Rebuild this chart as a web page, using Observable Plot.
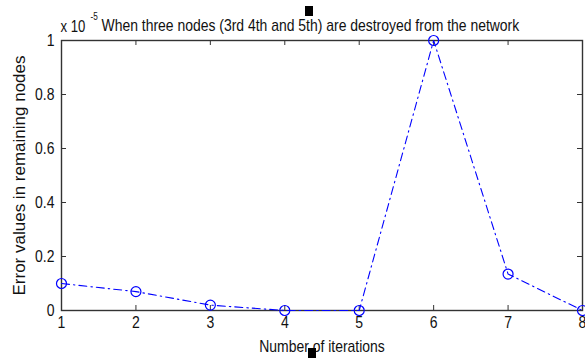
<!DOCTYPE html>
<html>
<head>
<meta charset="utf-8">
<script src="https://cdn.jsdelivr.net/npm/d3@7"></script>
<script src="https://cdn.jsdelivr.net/npm/@observablehq/plot@0.6"></script>
<style>
  html, body { margin: 0; padding: 0; background: #fff; }
  #wrap { position: relative; width: 585px; height: 358px; overflow: hidden; }
  .blot { position: absolute; background: #000; }
</style>
</head>
<body>
<div id="wrap"></div>
<script>
const iterations = [1, 2, 3, 4, 5, 6, 7, 8];
const errorValues = [0.1, 0.07, 0.02, 0, 0, 1, 0.135, 0];
const xTicks = [1, 2, 3, 4, 5, 6, 7, 8];
const yTicks = [0, 0.2, 0.4, 0.6, 0.8, 1];
const yTickLabels = ["0", "0.2", "0.4", "0.6", "0.8", "1"];
const titleText = "When three nodes (3rd 4th and 5th) are destroyed from the network";
const xLabel = "Number of iterations";
const yLabel = "Error values in remaining nodes";

const data = iterations.map((x, i) => ({x, y: errorValues[i]}));

const W = 585, H = 358;
const mL = 61, mR = 3, mT = 40, mB = 48;
const fw = W - mL - mR, fh = H - mT - mB;
const font = "'Liberation Sans', Arial, sans-serif";
const blue = "#0000ff";
const axisColor = "#333";

const chart = Plot.plot({
  width: W, height: H,
  marginLeft: mL, marginRight: mR, marginTop: mT, marginBottom: mB,
  style: {fontFamily: font, fontSize: "17px", color: "#111", background: "#fff", overflow: "visible"},
  x: {domain: [1, 8]},
  y: {domain: [0, 1]},
  marks: [
    Plot.frame({stroke: axisColor, strokeWidth: 1.4}),
    Plot.tickX(xTicks, {x: d => d, insetTop: fh - 5, stroke: axisColor}),
    Plot.tickX(xTicks, {x: d => d, insetBottom: fh - 5, stroke: axisColor}),
    Plot.tickY(yTicks, {y: d => d, insetRight: fw - 5, stroke: axisColor}),
    Plot.tickY(yTicks, {y: d => d, insetLeft: fw - 5, stroke: axisColor}),
    Plot.axisX(xTicks, {tickSize: 0, tickPadding: 5, fontSize: 17, label: xLabel, labelAnchor: "center", labelArrow: "none", labelOffset: 41}),
    Plot.axisY(yTicks, {tickSize: 0, tickPadding: 7, fontSize: 17, tickFormat: (d, i) => yTickLabels[i], label: yLabel, labelAnchor: "center", labelArrow: "none", labelOffset: 49}),
    Plot.line(data, {x: "x", y: "y", stroke: blue, strokeWidth: 1.1, strokeDasharray: "8,4,1.5,4"}),
    Plot.dot(data, {x: "x", y: "y", r: 5, stroke: blue, strokeWidth: 1.2, fill: "none"}),
    Plot.text([titleText], {text: d => d, frameAnchor: "top-left", textAnchor: "start", dx: 40, dy: -22, fontSize: 17, fill: "#111"}),
    Plot.text(["x 10"], {text: d => d, frameAnchor: "top-left", textAnchor: "start", dx: -1, dy: -20, fontSize: 16, fill: "#111"}),
    Plot.text(["-5"], {text: d => d, frameAnchor: "top-left", textAnchor: "start", dx: 29, dy: -28, fontSize: 10, fill: "#111"})
  ]
});
const wrap = document.getElementById("wrap");
wrap.appendChild(chart);

// the original image is horizontally squeezed: condense horizontal text glyphs
chart.querySelectorAll("text").forEach(t => {
  const tr = (t.getAttribute("transform") || "") + (t.parentNode.getAttribute && t.parentNode.getAttribute("transform") || "");
  if (/rotate/.test(tr)) return;
  const len = t.getComputedTextLength();
  if (len > 0) {
    t.setAttribute("textLength", (len * 0.82).toFixed(1));
    t.setAttribute("lengthAdjust", "spacingAndGlyphs");
  }
});

// scan blots present in the original image
for (const [l, t, w, h] of [[305, 6, 8, 10], [308, 348, 8, 10]]) {
  const b = document.createElement("div");
  b.className = "blot";
  b.style.left = l + "px"; b.style.top = t + "px"; b.style.width = w + "px"; b.style.height = h + "px";
  wrap.appendChild(b);
}
</script>
</body>
</html>
